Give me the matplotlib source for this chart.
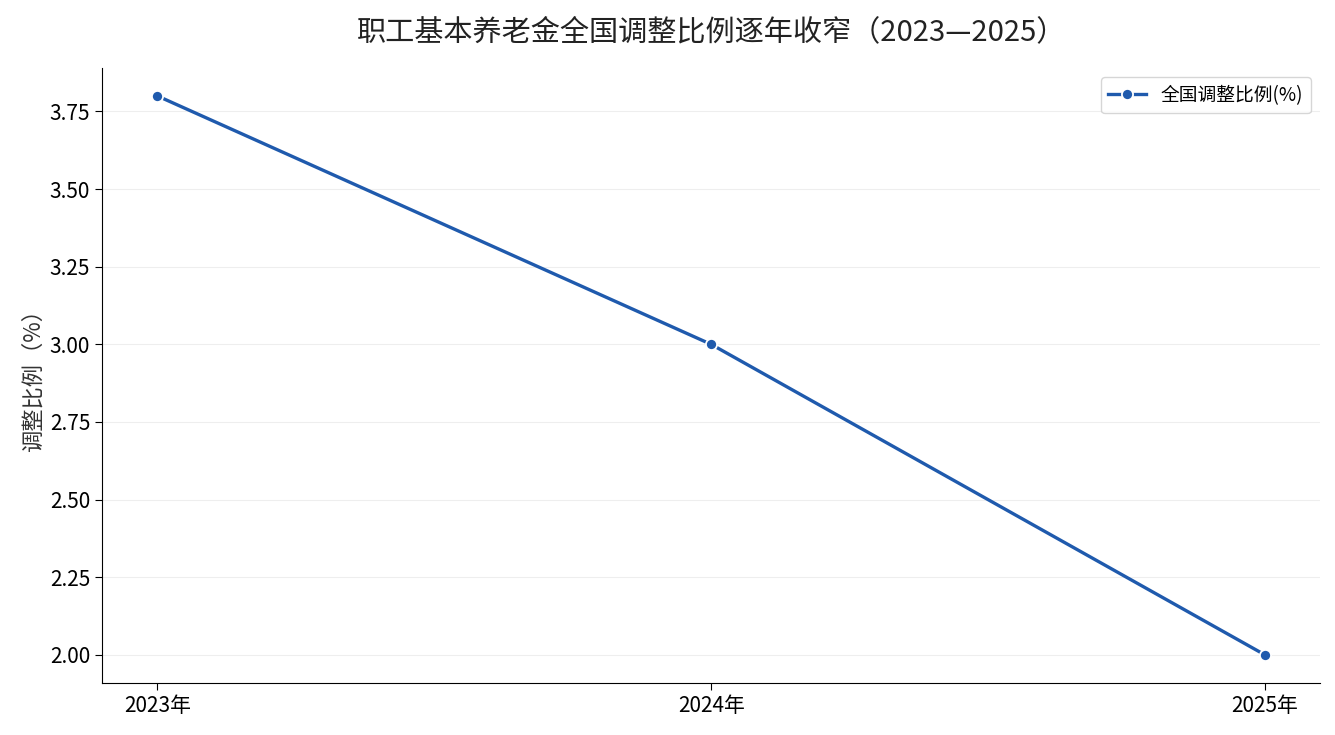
import matplotlib
matplotlib.use("Agg")
import matplotlib.pyplot as plt

plt.rcParams['font.family'] = ['Noto Sans CJK SC', 'DejaVu Sans']

years = ['2023年', '2024年', '2025年']
ratio = [3.8, 3.0, 2.0]

fig, ax = plt.subplots(figsize=(13.35, 7.35), dpi=100)
x = list(range(len(years)))
ax.plot(x, ratio, color='#1f5aad', linewidth=2.4, marker='o', markersize=8,
        markeredgecolor='white', markeredgewidth=1.3, label='全国调整比例(%)')

ax.set_xticks(x)
ax.set_xticklabels(years, fontsize=15)
ax.tick_params(axis='y', labelsize=15)
ax.tick_params(length=5)
ax.yaxis.set_major_formatter(matplotlib.ticker.FormatStrFormatter('%.2f'))
ax.set_ylabel('调整比例（%）', fontsize=16, color='#333333')
ax.set_title('职工基本养老金全国调整比例逐年收窄（2023—2025）', fontsize=21, pad=20, color='#222222')

ax.grid(axis='y', color='#eeeeee', linewidth=0.8)
ax.set_axisbelow(True)
ax.spines['top'].set_visible(False)
ax.spines['right'].set_visible(False)
ax.legend(loc='upper right', fontsize=13.5)

fig.subplots_adjust(left=0.0764, right=0.989, top=0.9075, bottom=0.071)
fig.savefig('out.png', dpi=100)
